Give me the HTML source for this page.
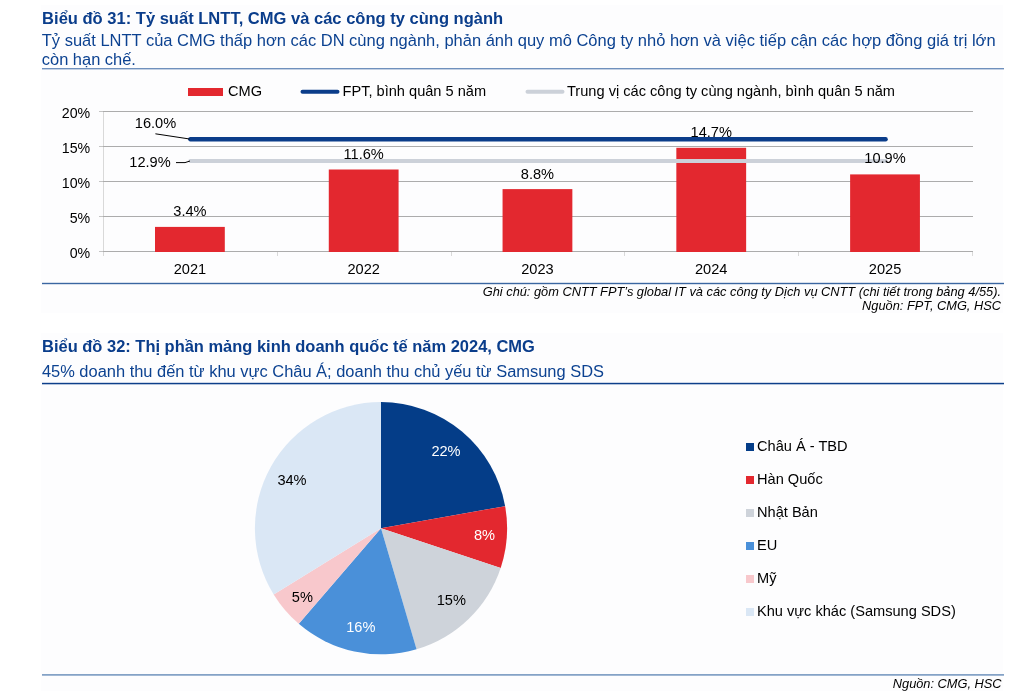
<!DOCTYPE html>
<html><head><meta charset="utf-8"><style>html,body{margin:0;padding:0;background:#fff;width:1031px;height:700px;overflow:hidden}</style></head>
<body><svg width="1031" height="700" viewBox="0 0 1031 700" style="display:block;will-change:transform;font-family:'Liberation Sans', sans-serif"><rect x="41" y="5" width="962" height="308" fill="#fdfdfe"/>
<rect x="41" y="333" width="962" height="358" fill="#fdfdfe"/>
<text x="42.1" y="24" font-size="16.55" fill="#0a3d8b" text-anchor="start" font-weight="bold" font-style="normal">Biểu đồ 31: Tỷ suất LNTT, CMG và các công ty cùng ngành</text>
<text x="41.8" y="46" font-size="16.49" fill="#0c4291" text-anchor="start" font-weight="normal" font-style="normal">Tỷ suất LNTT của CMG thấp hơn các DN cùng ngành, phản ánh quy mô Công ty nhỏ hơn và việc tiếp cận các hợp đồng giá trị lớn</text>
<text x="41.8" y="64.5" font-size="16.45" fill="#0c4291" text-anchor="start" font-weight="normal" font-style="normal">còn hạn chế.</text>
<rect x="42" y="68" width="962" height="1.4" fill="#6f90bd"/>
<rect x="188" y="88" width="35" height="8" fill="#e3282f"/>
<text x="228" y="96" font-size="14.6" fill="#000" text-anchor="start" font-weight="normal" font-style="normal">CMG</text>
<line x1="302.5" y1="91.8" x2="337.5" y2="91.8" stroke="#0b3d8a" stroke-width="4" stroke-linecap="round"/>
<text x="342.5" y="96" font-size="14.6" fill="#000" text-anchor="start" font-weight="normal" font-style="normal">FPT, bình quân 5 năm</text>
<line x1="527.5" y1="91.7" x2="562.5" y2="91.7" stroke="#ccd1d9" stroke-width="4" stroke-linecap="round"/>
<text x="567" y="96" font-size="14.6" fill="#000" text-anchor="start" font-weight="normal" font-style="normal">Trung vị các công ty cùng ngành, bình quân 5 năm</text>
<line x1="103.5" y1="111.5" x2="103.5" y2="256" stroke="#d9d9d9" stroke-width="1"/>
<line x1="277.5" y1="251.5" x2="277.5" y2="256" stroke="#d9d9d9" stroke-width="1"/>
<line x1="451.5" y1="251.5" x2="451.5" y2="256" stroke="#d9d9d9" stroke-width="1"/>
<line x1="624.5" y1="251.5" x2="624.5" y2="256" stroke="#d9d9d9" stroke-width="1"/>
<line x1="798.5" y1="251.5" x2="798.5" y2="256" stroke="#d9d9d9" stroke-width="1"/>
<line x1="972.5" y1="251.5" x2="972.5" y2="256" stroke="#d9d9d9" stroke-width="1"/>
<line x1="99" y1="251.5" x2="103" y2="251.5" stroke="#c4c4c4" stroke-width="1"/>
<line x1="103" y1="251.5" x2="973" y2="251.5" stroke="#acacac" stroke-width="1"/>
<text x="90.2" y="258.0" font-size="14.2" fill="#000" text-anchor="end" font-weight="normal" font-style="normal">0%</text>
<line x1="99" y1="216.5" x2="103" y2="216.5" stroke="#c4c4c4" stroke-width="1"/>
<line x1="103" y1="216.5" x2="973" y2="216.5" stroke="#acacac" stroke-width="1"/>
<text x="90.2" y="223.0" font-size="14.2" fill="#000" text-anchor="end" font-weight="normal" font-style="normal">5%</text>
<line x1="99" y1="181.5" x2="103" y2="181.5" stroke="#c4c4c4" stroke-width="1"/>
<line x1="103" y1="181.5" x2="973" y2="181.5" stroke="#acacac" stroke-width="1"/>
<text x="90.2" y="188.0" font-size="14.2" fill="#000" text-anchor="end" font-weight="normal" font-style="normal">10%</text>
<line x1="99" y1="146.5" x2="103" y2="146.5" stroke="#c4c4c4" stroke-width="1"/>
<line x1="103" y1="146.5" x2="973" y2="146.5" stroke="#acacac" stroke-width="1"/>
<text x="90.2" y="153.0" font-size="14.2" fill="#000" text-anchor="end" font-weight="normal" font-style="normal">15%</text>
<line x1="99" y1="111.5" x2="103" y2="111.5" stroke="#c4c4c4" stroke-width="1"/>
<line x1="103" y1="111.5" x2="973" y2="111.5" stroke="#acacac" stroke-width="1"/>
<text x="90.2" y="118.0" font-size="14.2" fill="#000" text-anchor="end" font-weight="normal" font-style="normal">20%</text>
<rect x="155.00" y="226.90" width="69.8" height="25.10" fill="#e3282f"/>
<text x="189.9" y="273.9" font-size="14.6" fill="#000" text-anchor="middle" font-weight="normal" font-style="normal">2021</text>
<rect x="328.78" y="169.50" width="69.8" height="82.50" fill="#e3282f"/>
<text x="363.68" y="273.9" font-size="14.6" fill="#000" text-anchor="middle" font-weight="normal" font-style="normal">2022</text>
<rect x="502.56" y="189.10" width="69.8" height="62.90" fill="#e3282f"/>
<text x="537.46" y="273.9" font-size="14.6" fill="#000" text-anchor="middle" font-weight="normal" font-style="normal">2023</text>
<rect x="676.34" y="147.80" width="69.8" height="104.20" fill="#e3282f"/>
<text x="711.24" y="273.9" font-size="14.6" fill="#000" text-anchor="middle" font-weight="normal" font-style="normal">2024</text>
<rect x="850.12" y="174.40" width="69.8" height="77.60" fill="#e3282f"/>
<text x="885.02" y="273.9" font-size="14.6" fill="#000" text-anchor="middle" font-weight="normal" font-style="normal">2025</text>
<line x1="190.40" y1="161" x2="885.60" y2="161" stroke="#ccd1d9" stroke-width="4.2" stroke-linecap="round"/>
<text x="189.9" y="216.0" font-size="14.6" fill="#000" text-anchor="middle" font-weight="normal" font-style="normal">3.4%</text>
<text x="363.68" y="158.9" font-size="14.6" fill="#000" text-anchor="middle" font-weight="normal" font-style="normal">11.6%</text>
<text x="537.46" y="178.6" font-size="14.6" fill="#000" text-anchor="middle" font-weight="normal" font-style="normal">8.8%</text>
<text x="711.24" y="136.8" font-size="14.6" fill="#000" text-anchor="middle" font-weight="normal" font-style="normal">14.7%</text>
<text x="885.02" y="163.0" font-size="14.6" fill="#000" text-anchor="middle" font-weight="normal" font-style="normal">10.9%</text>
<line x1="190.40" y1="139.2" x2="885.60" y2="139.2" stroke="#0b3d8a" stroke-width="4.4" stroke-linecap="round"/>
<polyline points="155.4,133.8 189.6,139" fill="none" stroke="#000" stroke-width="1"/>
<text x="134.8" y="127.8" font-size="14.6" fill="#000" text-anchor="start" font-weight="normal" font-style="normal">16.0%</text>
<polyline points="176,162.6 185,162.6 190,161" fill="none" stroke="#000" stroke-width="1"/>
<text x="129.3" y="166.8" font-size="14.6" fill="#000" text-anchor="start" font-weight="normal" font-style="normal">12.9%</text>
<rect x="42" y="282.8" width="962" height="1.4" fill="#3a66a1"/>
<text x="1001" y="295.8" font-size="12.8" fill="#000" text-anchor="end" font-weight="normal" font-style="italic">Ghi chú: gồm CNTT FPT’s global IT và các công ty Dịch vụ CNTT (chi tiết trong bảng 4/55).</text>
<text x="1001" y="309.7" font-size="12.8" fill="#000" text-anchor="end" font-weight="normal" font-style="italic">Nguồn: FPT, CMG, HSC</text>
<text x="42.1" y="351.6" font-size="16.47" fill="#0a3d8b" text-anchor="start" font-weight="bold" font-style="normal">Biểu đồ 32: Thị phần mảng kinh doanh quốc tế năm 2024, CMG</text>
<text x="41.9" y="377.4" font-size="16.46" fill="#0c4291" text-anchor="start" font-weight="normal" font-style="normal">45% doanh thu đến từ khu vực Châu Á; doanh thu chủ yếu từ Samsung SDS</text>
<rect x="42" y="382.8" width="962" height="1.5" fill="#0d3f8a"/>
<path d="M381,528.2 L381.00,402.10 A126.1,126.1 0 0 1 505.15,506.13 Z" fill="#043d88"/>
<path d="M381,528.2 L505.15,506.13 A126.1,126.1 0 0 1 500.68,567.92 Z" fill="#e3282f"/>
<path d="M381,528.2 L500.68,567.92 A126.1,126.1 0 0 1 416.56,649.18 Z" fill="#ced3da"/>
<path d="M381,528.2 L416.56,649.18 A126.1,126.1 0 0 1 298.80,623.83 Z" fill="#4a90d9"/>
<path d="M381,528.2 L298.80,623.83 A126.1,126.1 0 0 1 273.69,594.42 Z" fill="#f8c8cc"/>
<path d="M381,528.2 L273.69,594.42 A126.1,126.1 0 0 1 381.00,402.10 Z" fill="#dae7f5"/>
<text x="446" y="456" font-size="14.6" fill="#ffffff" text-anchor="middle" font-weight="normal" font-style="normal">22%</text>
<text x="484.5" y="540" font-size="14.6" fill="#ffffff" text-anchor="middle" font-weight="normal" font-style="normal">8%</text>
<text x="451.3" y="605.2" font-size="14.6" fill="#000" text-anchor="middle" font-weight="normal" font-style="normal">15%</text>
<text x="360.8" y="632.4" font-size="14.6" fill="#ffffff" text-anchor="middle" font-weight="normal" font-style="normal">16%</text>
<text x="302.4" y="602" font-size="14.6" fill="#000" text-anchor="middle" font-weight="normal" font-style="normal">5%</text>
<text x="292" y="484.6" font-size="14.6" fill="#000" text-anchor="middle" font-weight="normal" font-style="normal">34%</text>
<rect x="746" y="443.0" width="8" height="8" fill="#043d88"/>
<text x="757" y="451.4" font-size="14.6" fill="#000" text-anchor="start" font-weight="normal" font-style="normal">Châu Á - TBD</text>
<rect x="746" y="476.0" width="8" height="8" fill="#e3282f"/>
<text x="757" y="484.4" font-size="14.6" fill="#000" text-anchor="start" font-weight="normal" font-style="normal">Hàn Quốc</text>
<rect x="746" y="509.0" width="8" height="8" fill="#ced3da"/>
<text x="757" y="517.4" font-size="14.6" fill="#000" text-anchor="start" font-weight="normal" font-style="normal">Nhật Bản</text>
<rect x="746" y="542.0" width="8" height="8" fill="#4a90d9"/>
<text x="757" y="550.4" font-size="14.6" fill="#000" text-anchor="start" font-weight="normal" font-style="normal">EU</text>
<rect x="746" y="575.0" width="8" height="8" fill="#f8c8cc"/>
<text x="757" y="583.4" font-size="14.6" fill="#000" text-anchor="start" font-weight="normal" font-style="normal">Mỹ</text>
<rect x="746" y="608.0" width="8" height="8" fill="#dae7f5"/>
<text x="757" y="616.4" font-size="14.6" fill="#000" text-anchor="start" font-weight="normal" font-style="normal">Khu vực khác (Samsung SDS)</text>
<rect x="42" y="674.2" width="962" height="1.4" fill="#668cb8"/>
<text x="1001.6" y="687.8" font-size="12.8" fill="#000" text-anchor="end" font-weight="normal" font-style="italic">Nguồn: CMG, HSC</text></svg></body></html>
